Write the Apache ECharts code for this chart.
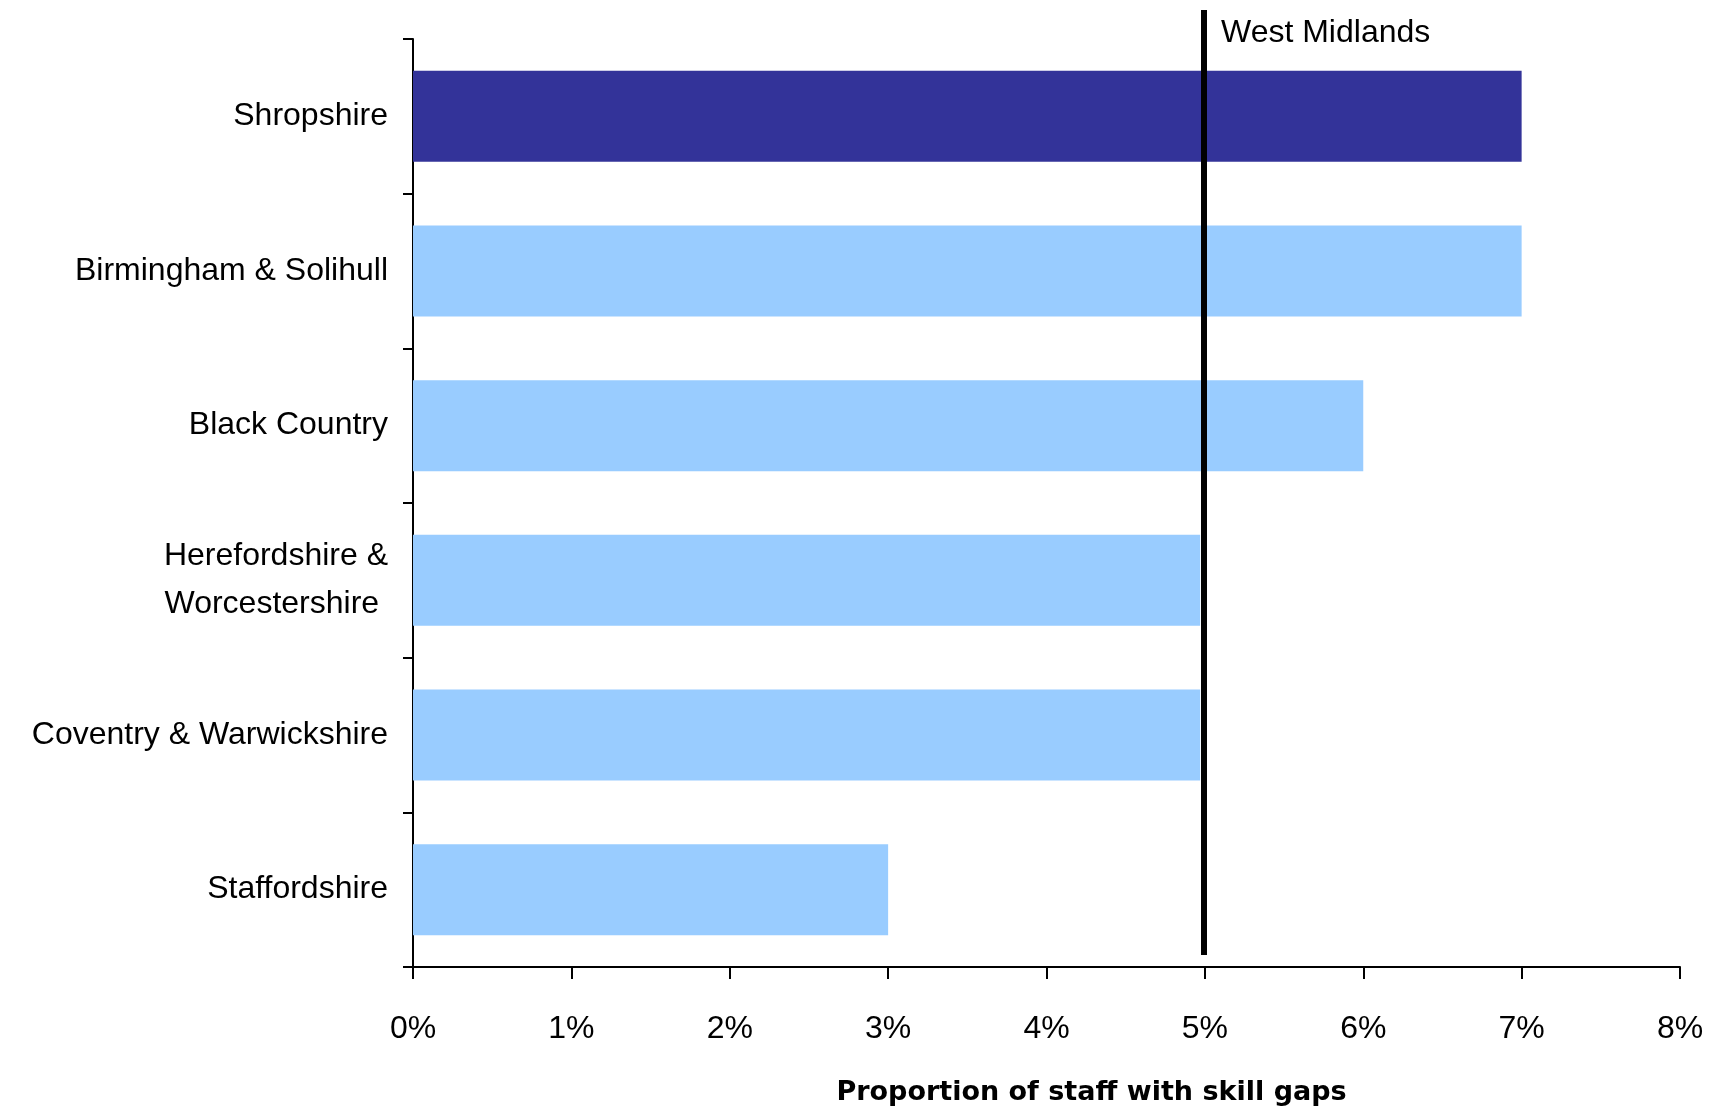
<!DOCTYPE html>
<html>
<head>
<meta charset="utf-8">
<script src="https://cdn.jsdelivr.net/npm/echarts@6/dist/echarts.min.js"></script>
<style>
html,body{margin:0;padding:0;background:#fff;}
#chart{width:1720px;height:1112px;}
</style>
</head>
<body>
<div id="chart"></div>
<script>
const categories = [
  'Shropshire',
  'Birmingham & Solihull',
  'Black Country',
  'Herefordshire &\nWorcestershire ',
  'Coventry & Warwickshire',
  'Staffordshire'
];
const skillGapValues = [7, 7, 6, 4.97, 4.97, 3];
const highlightCategory = 'Shropshire';
const regionName = 'West Midlands';
const regionValue = 4.99;
const xTicks = [0, 1, 2, 3, 4, 5, 6, 7, 8];
const xAxisTitle = 'Proportion of staff with skill gaps';

const FONT = '"Liberation Sans", Arial, sans-serif';
const chart = echarts.init(document.getElementById('chart'), null, {renderer: 'canvas'});
chart.setOption({
  animation: false,
  backgroundColor: '#ffffff',
  title: {
    text: regionName,
    left: 1216,
    top: 12,
    textStyle: {fontFamily: FONT, fontSize: 32, fontWeight: 'normal', color: '#000'}
  },
  grid: {left: 413, right: 40, top: 39, bottom: 145, containLabel: false},
  xAxis: {
    type: 'value',
    min: xTicks[0],
    max: xTicks[xTicks.length - 1],
    interval: 1,
    name: xAxisTitle,
    nameLocation: 'middle',
    nameGap: 112,
    nameTextStyle: {fontFamily: '"DejaVu Sans", sans-serif', fontSize: 27, fontWeight: 'bold', color: '#000', padding: [0, 0, 0, 90]},
    axisLine: {show: true, lineStyle: {color: '#000', width: 2}},
    axisTick: {show: true, length: 12, lineStyle: {color: '#000', width: 2}},
    splitLine: {show: false},
    axisLabel: {formatter: '{value}%', fontFamily: FONT, fontSize: 32, color: '#000', margin: 46}
  },
  yAxis: {
    type: 'category',
    data: categories,
    inverse: true,
    axisLine: {show: true, lineStyle: {color: '#000', width: 2}},
    axisTick: {show: true, length: 10, lineStyle: {color: '#000', width: 2}},
    axisLabel: {fontFamily: FONT, fontSize: 32, color: '#000', margin: 25, lineHeight: 48}
  },
  series: [{
    type: 'bar',
    data: skillGapValues,
    barWidth: 91,
    itemStyle: {
      color: function (p) { return categories[p.dataIndex] === highlightCategory ? '#333399' : '#99CCFF'; }
    },
    markLine: {
      silent: true,
      symbol: 'none',
      label: {show: false},
      lineStyle: {color: '#000', width: 6, type: 'solid'},
      data: [[{xAxis: regionValue, y: 10}, {xAxis: regionValue, y: 955}]]
    }
  }]
});
</script>
</body>
</html>
